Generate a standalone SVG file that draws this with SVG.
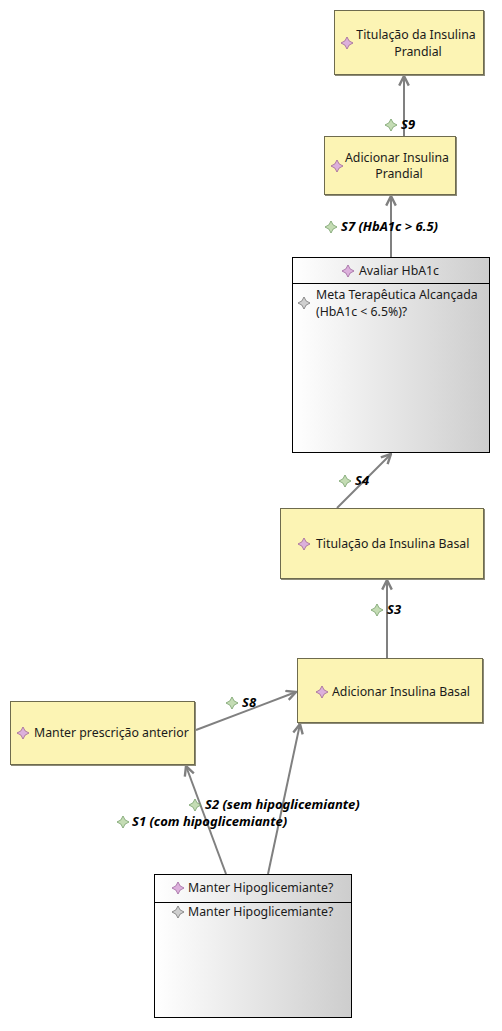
<svg xmlns="http://www.w3.org/2000/svg" width="502" height="1031" viewBox="0 0 502 1031">
<defs>
<style>
.box{fill:#fcf4b4;stroke:#6e6b4e;stroke-width:1}
.shadow{fill:#8c8a78}
.gbox{fill:url(#grad);stroke:#000;stroke-width:1}
.div{stroke:#000;stroke-width:1}
.t{font-family:"Noto Sans","Open Sans",sans-serif;font-size:12.3px;fill:#1a1a1a}
.c{text-anchor:middle}
.lbl{font-family:"Noto Sans","Open Sans",sans-serif;font-size:13px;font-weight:bold;font-style:italic;fill:#000}
.edge{stroke:#808080;stroke-width:2;fill:none;marker-end:url(#arr)}
.pk{fill:#dcb0dc;stroke:#9a5c9a;stroke-width:0.8}
.gr{fill:#c4dcb4;stroke:#6e9a60;stroke-width:0.8}
.gy{fill:#cfcfcf;stroke:#6e6e6e;stroke-width:0.8}
</style>
<linearGradient id="grad" x1="0" y1="0" x2="1" y2="0">
<stop offset="0" stop-color="#ffffff"/>
<stop offset="1" stop-color="#cdcdcd"/>
</linearGradient>
<marker id="arr" markerWidth="12" markerHeight="12" refX="9" refY="5" orient="auto" markerUnits="userSpaceOnUse" viewBox="0 0 10 10">
<path d="M1,1 L9,5 L1,9" fill="none" stroke="#808080" stroke-width="2"/>
</marker>
<path id="st" d="M0,-6 Q1.2,-1.2 6,0 Q1.2,1.2 0,6 Q-1.2,1.2 -6,0 Q-1.2,-1.2 0,-6Z"/>
</defs>

<g id="connectors">
<line class="edge" x1="404" y1="136" x2="404" y2="76"/>
<line class="edge" x1="391" y1="257" x2="391" y2="196"/>
<line class="edge" x1="337" y1="508" x2="391" y2="454"/>
<line class="edge" x1="387" y1="658" x2="387" y2="580"/>
<line class="edge" x1="196" y1="730" x2="296" y2="692"/>
<line class="edge" x1="226" y1="874" x2="186" y2="766"/>
<line class="edge" x1="268" y1="874" x2="300" y2="724"/>
<g id="lbl-s9"><use href="#st" class="gr" x="391" y="125"/><text class="lbl" x="401" y="129">S9</text></g>
<g id="lbl-s7"><use href="#st" class="gr" x="331" y="227"/><text class="lbl" x="341" y="231">S7 (HbA1c &gt; 6.5)</text></g>
<g id="lbl-s4"><use href="#st" class="gr" x="345" y="481"/><text class="lbl" x="355" y="485">S4</text></g>
<g id="lbl-s3"><use href="#st" class="gr" x="377" y="610"/><text class="lbl" x="387" y="614">S3</text></g>
<g id="lbl-s8"><use href="#st" class="gr" x="232" y="703"/><text class="lbl" x="242" y="707">S8</text></g>
<g id="lbl-s2"><use href="#st" class="gr" x="195" y="805"/><text class="lbl" x="205" y="809">S2 (sem hipoglicemiante)</text></g>
<g id="lbl-s1"><use href="#st" class="gr" x="123" y="822"/><text class="lbl" x="132" y="826">S1 (com hipoglicemiante)</text></g>
</g>

<g id="titulacao-prandial">
<rect class="shadow" x="335" y="11" width="150" height="65"/>
<rect class="box" x="334.5" y="10.5" width="149" height="64"/>
<use href="#st" class="pk" x="347" y="43"/>
<text class="t c" x="416" y="39">Titulação da Insulina</text>
<text class="t c" x="418" y="56">Prandial</text>
</g>

<g id="adicionar-prandial">
<rect class="shadow" x="325" y="137" width="132" height="59"/>
<rect class="box" x="324.5" y="136.5" width="131" height="58"/>
<use href="#st" class="pk" x="337" y="166"/>
<text class="t c" x="397" y="162">Adicionar Insulina</text>
<text class="t c" x="399" y="178">Prandial</text>
</g>

<g id="avaliar-hba1c">
<rect class="gbox" x="292.5" y="257.5" width="197" height="195"/>
<line class="div" x1="292.5" y1="283.5" x2="489.5" y2="283.5"/>
<use href="#st" class="pk" x="348" y="271"/>
<text class="t" x="359" y="275">Avaliar HbA1c</text>
<use href="#st" class="gy" x="304" y="303"/>
<text class="t" x="316" y="299">Meta Terapêutica Alcançada</text>
<text class="t" x="316" y="316">(HbA1c &lt; 6.5%)?</text>
</g>

<g id="titulacao-basal">
<rect class="shadow" x="281" y="509" width="204" height="71"/>
<rect class="box" x="280.5" y="508.5" width="203" height="70"/>
<use href="#st" class="pk" x="304" y="544"/>
<text class="t" x="316" y="548">Titulação da Insulina Basal</text>
</g>

<g id="adicionar-basal">
<rect class="shadow" x="298" y="659" width="186" height="65"/>
<rect class="box" x="297.5" y="658.5" width="185" height="64"/>
<use href="#st" class="pk" x="322" y="692"/>
<text class="t" x="332" y="696">Adicionar Insulina Basal</text>
</g>

<g id="manter-prescricao">
<rect class="shadow" x="11" y="702" width="185" height="64"/>
<rect class="box" x="10.5" y="701.5" width="184" height="63"/>
<use href="#st" class="pk" x="23" y="733"/>
<text class="t" x="34" y="737">Manter prescrição anterior</text>
</g>

<g id="manter-hipoglicemiante">
<rect class="gbox" x="154.5" y="874.5" width="197" height="143"/>
<line class="div" x1="154.5" y1="902.5" x2="351.5" y2="902.5"/>
<use href="#st" class="pk" x="178" y="888"/>
<text class="t" x="188" y="892">Manter Hipoglicemiante?</text>
<use href="#st" class="gy" x="178" y="912"/>
<text class="t" x="188" y="916">Manter Hipoglicemiante?</text>
</g>
</svg>
